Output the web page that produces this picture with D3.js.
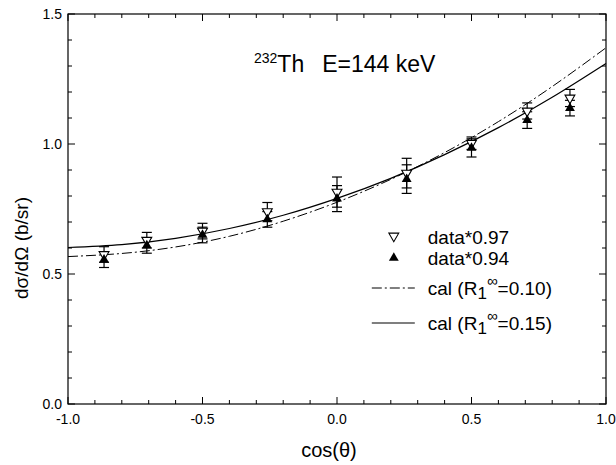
<!DOCTYPE html>
<html>
<head>
<meta charset="utf-8">
<script src="https://cdn.jsdelivr.net/npm/d3@7"></script>
<style>
  body { margin: 0; background: #fff; }
  text { font-family: "Liberation Sans", Arial, sans-serif; fill: #000; }
</style>
</head>
<body>
<div id="chart"></div>
<script>
// cos(theta) of the measured angles
const cosTheta = [-0.866, -0.707, -0.5, -0.259, 0, 0.259, 0.5, 0.707, 0.866];

// data*0.97 (open, down triangles)
const data97 = [0.575, 0.63, 0.665, 0.74, 0.815, 0.888, 1.003, 1.127, 1.177];
const err97 = [0.03, 0.03, 0.03, 0.035, 0.058, 0.057, 0.024, 0.031, 0.033];

// data*0.94 (filled, up triangles)
const data94 = [0.555, 0.61, 0.65, 0.71, 0.79, 0.865, 0.985, 1.092, 1.138];
const err94 = [0.03, 0.03, 0.03, 0.03, 0.05, 0.055, 0.035, 0.032, 0.03];

// calculated curves
const calX = [-1, -0.8, -0.6, -0.4, -0.2, 0, 0.2, 0.4, 0.6, 0.8, 1];
const cal010 = [0.567, 0.579, 0.604, 0.645, 0.703, 0.776, 0.864, 0.967, 1.086, 1.221, 1.37];
const cal015 = [0.602, 0.613, 0.637, 0.675, 0.726, 0.791, 0.868, 0.959, 1.063, 1.180, 1.31];

const xTicks = [-1.0, -0.5, 0.0, 0.5, 1.0];
const yTicks = [0.0, 0.5, 1.0, 1.5];

const margin = {top: 14, right: 10, bottom: 61, left: 68},
      width = 616 - margin.left - margin.right,
      height = 465 - margin.top - margin.bottom;

const svg = d3.select("#chart").append("svg")
    .attr("width", 616)
    .attr("height", 465)
  .append("g")
    .attr("transform", `translate(${margin.left},${margin.top})`);

const x = d3.scaleLinear().domain([-1, 1]).range([0, width]);
const y = d3.scaleLinear().domain([0, 1.5]).range([height, 0]);

// minor ticks every 0.1, major every 0.5, all pointing inward
const xMinor = d3.range(-10, 11).map(d => d / 10);
const yMinor = d3.range(0, 16).map(d => d / 10);
const isMajor = v => Math.abs(v * 2 - Math.round(v * 2)) < 1e-6;

function tickLen(v) { return isMajor(v) ? 7 : 4; }

// frame
svg.append("rect")
    .attr("width", width)
    .attr("height", height)
    .attr("fill", "none")
    .attr("stroke", "#000")
    .attr("stroke-width", 1.2);

const ticks = svg.append("g").attr("stroke", "#000").attr("stroke-width", 1);
xMinor.forEach(v => {
    ticks.append("line").attr("x1", x(v)).attr("x2", x(v))
        .attr("y1", height).attr("y2", height - tickLen(v));
    ticks.append("line").attr("x1", x(v)).attr("x2", x(v))
        .attr("y1", 0).attr("y2", tickLen(v));
});
yMinor.forEach(v => {
    ticks.append("line").attr("x1", 0).attr("x2", tickLen(v))
        .attr("y1", y(v)).attr("y2", y(v));
    ticks.append("line").attr("x1", width).attr("x2", width - tickLen(v))
        .attr("y1", y(v)).attr("y2", y(v));
});

// tick labels
svg.selectAll(".xlab").data(xTicks).enter().append("text")
    .attr("x", d => x(d))
    .attr("y", height + 20)
    .attr("text-anchor", "middle")
    .attr("font-size", 14)
    .text(d => d3.format(".1f")(d).replace("−", "-"));

svg.selectAll(".ylab").data(yTicks).enter().append("text")
    .attr("x", -6)
    .attr("y", d => y(d) + 5)
    .attr("text-anchor", "end")
    .attr("font-size", 14)
    .text(d => d3.format(".1f")(d));

// axis titles
svg.append("text")
    .attr("x", x(-0.03))
    .attr("y", height + 53)
    .attr("text-anchor", "middle")
    .attr("font-size", 20)
    .text("cos(θ)");

svg.append("text")
    .attr("transform", "rotate(-90)")
    .attr("x", -(y(0.6)))
    .attr("y", -40)
    .attr("text-anchor", "middle")
    .attr("font-size", 19)
    .text("dσ/dΩ (b/sr)");

// calculated curves
const line = d3.line()
    .x(d => x(d[0]))
    .y(d => y(d[1]))
    .curve(d3.curveNatural);

svg.append("path")
    .datum(calX.map((v, i) => [v, cal010[i]]))
    .attr("fill", "none")
    .attr("stroke", "#000")
    .attr("stroke-width", 1)
    .attr("stroke-dasharray", "10,3,2,3")
    .attr("d", line);

svg.append("path")
    .datum(calX.map((v, i) => [v, cal015[i]]))
    .attr("fill", "none")
    .attr("stroke", "#000")
    .attr("stroke-width", 1.2)
    .attr("d", line);

// error bars
function errorBars(vals, errs) {
    const g = svg.append("g").attr("stroke", "#000").attr("stroke-width", 1.2);
    cosTheta.forEach((c, i) => {
        const cx = x(c);
        g.append("line").attr("x1", cx).attr("x2", cx)
            .attr("y1", y(vals[i] - errs[i])).attr("y2", y(vals[i] + errs[i]));
        [vals[i] - errs[i], vals[i] + errs[i]].forEach(v => {
            g.append("line").attr("x1", cx - 5).attr("x2", cx + 5)
                .attr("y1", y(v)).attr("y2", y(v));
        });
    });
}
errorBars(data97, err97);
errorBars(data94, err94);

const triUp = d3.symbol().type(d3.symbolTriangle).size(42);

// data*0.97 open down triangles
svg.selectAll(".p97").data(data97).enter().append("path")
    .attr("d", triUp)
    .attr("transform", (d, i) => `translate(${x(cosTheta[i])},${y(d)}) rotate(180)`)
    .attr("fill", "#fff")
    .attr("stroke", "#000")
    .attr("stroke-width", 1.1);

// data*0.94 filled up triangles
svg.selectAll(".p94").data(data94).enter().append("path")
    .attr("d", triUp)
    .attr("transform", (d, i) => `translate(${x(cosTheta[i])},${y(d)})`)
    .attr("fill", "#000");

// title
const title = svg.append("text")
    .attr("x", 186)
    .attr("y", 58)
    .attr("font-size", 23);
title.append("tspan").attr("font-size", 14).attr("dy", -9).text("232");
title.append("tspan").attr("dy", 9).text("Th");
title.append("tspan").attr("dx", 18).text("E=144 keV");

// legend
const lg = svg.append("g").attr("transform", `translate(${x(0.2)},0)`);
const legendRows = [
    {label: "data*0.97", y: 223, kind: "open"},
    {label: "data*0.94", y: 244, kind: "filled"},
    {label: "cal (R", sub: "1", sup: "∞", rest: "=0.10)", y: 274, kind: "dash"},
    {label: "cal (R", sub: "1", sup: "∞", rest: "=0.15)", y: 309, kind: "solid"}
];
legendRows.forEach(r => {
    if (r.kind === "open") {
        lg.append("path").attr("d", triUp)
            .attr("transform", `translate(3,${r.y - 1}) rotate(180)`)
            .attr("fill", "#fff").attr("stroke", "#000").attr("stroke-width", 1.1);
    } else if (r.kind === "filled") {
        lg.append("path").attr("d", triUp)
            .attr("transform", `translate(3,${r.y})`)
            .attr("fill", "#000");
    } else {
        lg.append("line").attr("x1", -19).attr("x2", 24)
            .attr("y1", r.y).attr("y2", r.y)
            .attr("stroke", "#000")
            .attr("stroke-width", r.kind === "dash" ? 1 : 1.2)
            .attr("stroke-dasharray", r.kind === "dash" ? "10,3,2,3" : null);
    }
    const t = lg.append("text")
        .attr("x", 37)
        .attr("y", r.y + 7)
        .attr("font-size", 19);
    t.append("tspan").text(r.label);
    if (r.sub) {
        t.append("tspan").attr("dy", 4).attr("font-size", 17).text(r.sub);
        t.append("tspan").attr("dy", -13).attr("font-size", 15).text(r.sup);
        t.append("tspan").attr("dy", 9).text(r.rest);
    }
});
</script>
</body>
</html>
